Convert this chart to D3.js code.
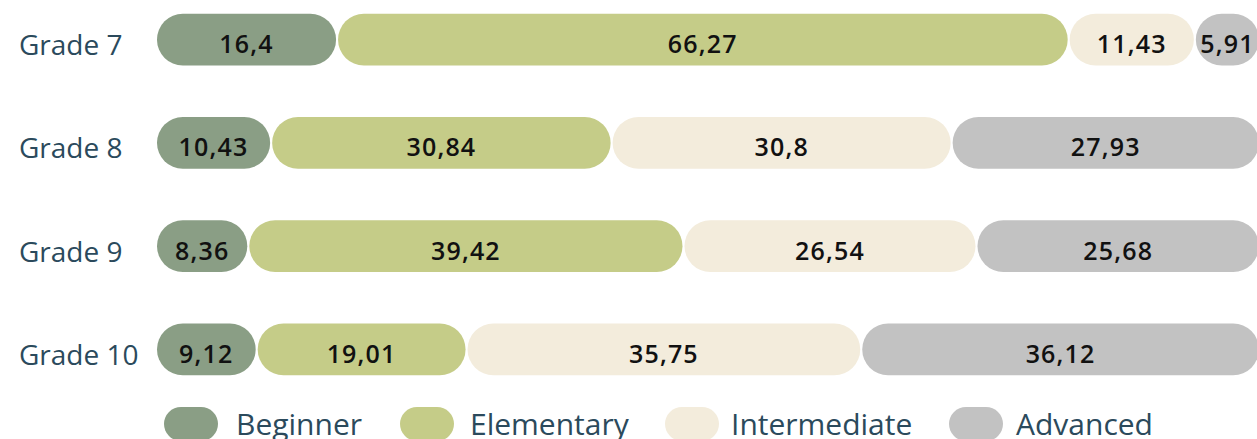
<!DOCTYPE html>
<html>
  <head>
    <style>
      body { margin: 0; background: #fff; overflow: hidden; }
      text { font-family: "Open Sans", sans-serif; }
      .grade { fill: #2b4a5c; font-size: 28px; }
      .val { fill: #111; font-size: 25px; font-weight: 600; letter-spacing: 1.2px; }
      .leg { fill: #2b4a5c; font-size: 30px; }
    </style>
    <script src="https://d3js.org/d3.v7.min.js"></script>
  </head>
  <body>
    <svg class="chart"></svg>

    <script>
      const grades = ['Grade 7', 'Grade 8', 'Grade 9', 'Grade 10'];
      const levels = ['Beginner', 'Elementary', 'Intermediate', 'Advanced'];
      const beginner = [16.4, 10.43, 8.36, 9.12];
      const elementary = [66.27, 30.84, 39.42, 19.01];
      const intermediate = [11.43, 30.8, 26.54, 35.75];
      const advanced = [5.91, 27.93, 25.68, 36.12];
      const colors = ['#8a9e85', '#c5cc88', '#f3ecdc', '#c2c2c2'];

      const width = 1257;
      const height = 439;

      const svg = d3.select('svg')
        .attr('width', width)
        .attr('height', height);

      const rows = grades.map((g, i) => ({
        grade: g,
        Beginner: beginner[i],
        Elementary: elementary[i],
        Intermediate: intermediate[i],
        Advanced: advanced[i]
      }));

      const stack = d3.stack().keys(levels)(rows);

      const x = d3.scaleLinear().domain([0, 100]).range([156, 1260]);
      const y = d3.scaleBand().domain(grades).range([-12, 401]).paddingInner(0.5).paddingOuter(0.25);
      const color = d3.scaleOrdinal().domain(levels).range(colors);
      const bh = y.bandwidth();

      svg.selectAll('.grade')
        .data(grades)
        .join('text')
        .attr('class', 'grade')
        .attr('x', 19)
        .attr('y', d => y(d) + bh / 2)
        .attr('dy', '0.55em')
        .text(d => d);

      const layer = svg.selectAll('.layer')
        .data(stack)
        .join('g')
        .attr('class', 'layer')
        .attr('fill', d => color(d.key));

      layer.selectAll('rect')
        .data(d => d)
        .join('rect')
        .attr('x', d => x(d[0]) + 1)
        .attr('y', d => y(d.data.grade))
        .attr('width', d => Math.max(0, x(d[1]) - x(d[0]) - 2))
        .attr('height', bh)
        .attr('rx', bh / 2);

      layer.selectAll('.val')
        .data(d => d.map(s => ({ s, key: d.key })))
        .join('text')
        .attr('class', 'val')
        .attr('text-anchor', 'middle')
        .attr('x', d => (x(d.s[0]) + x(d.s[1])) / 2)
        .attr('y', d => y(d.s.data.grade) + bh / 2)
        .attr('dy', '0.54em')
        .text(d => String(d.s.data[d.key]).replace('.', ','));

      // legend
      const legX = [164, 400, 665, 949];
      const legTextX = [236, 470, 731, 1016];
      const leg = svg.selectAll('.legend')
        .data(levels)
        .join('g')
        .attr('class', 'legend');

      leg.append('rect')
        .attr('x', (d, i) => legX[i])
        .attr('y', 407)
        .attr('width', 54)
        .attr('height', 34)
        .attr('rx', 17)
        .attr('fill', d => color(d));

      leg.append('text')
        .attr('class', 'leg')
        .attr('x', (d, i) => legTextX[i])
        .attr('y', 435)
        .text(d => d);
    </script>
  </body>
</html>
